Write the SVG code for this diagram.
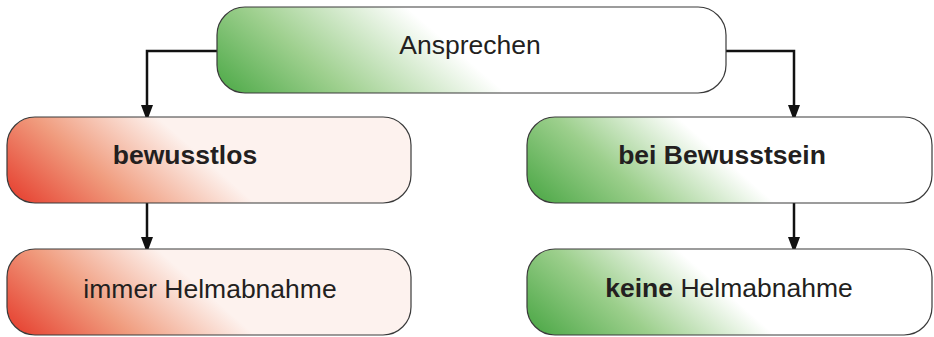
<svg xmlns="http://www.w3.org/2000/svg" width="934" height="337" viewBox="0 0 934 337">
<style>
.box{stroke:#3a3a3a;stroke-width:1.2}
.lbl{font-family:"Liberation Sans",Arial,sans-serif;font-size:26.5px;fill:#231f20;text-anchor:middle}
.b{font-weight:bold}
.con{fill:none;stroke:#111;stroke-width:2.5;marker-end:url(#ah)}
</style>
<defs>
<marker id="ah" viewBox="0 0 12 16" refX="12" refY="6" markerWidth="12" markerHeight="16" markerUnits="userSpaceOnUse" orient="auto">
<path d="M0,0 L16,6 L0,12 z" fill="#111"/>
</marker>
<linearGradient id="gTop" gradientUnits="userSpaceOnUse" x1="217" y1="93" x2="340" y2="-50">
<stop offset="0" stop-color="#4aa845"/>
<stop offset="0.45" stop-color="#9fd08f"/>
<stop offset="1" stop-color="#ffffff"/>
</linearGradient>
<linearGradient id="gRedA" gradientUnits="userSpaceOnUse" x1="7" y1="203" x2="115" y2="80">
<stop offset="0" stop-color="#e5392a"/>
<stop offset="0.5" stop-color="#f09c7e"/>
<stop offset="1" stop-color="#fdf2ee"/>
</linearGradient>
<linearGradient id="gRedB" gradientUnits="userSpaceOnUse" x1="7" y1="335" x2="115" y2="212">
<stop offset="0" stop-color="#e5392a"/>
<stop offset="0.5" stop-color="#f09c7e"/>
<stop offset="1" stop-color="#fdf2ee"/>
</linearGradient>
<linearGradient id="gGrnA" gradientUnits="userSpaceOnUse" x1="527" y1="203" x2="635" y2="80">
<stop offset="0" stop-color="#47a542"/>
<stop offset="0.5" stop-color="#9ccf8c"/>
<stop offset="1" stop-color="#ffffff"/>
</linearGradient>
<linearGradient id="gGrnB" gradientUnits="userSpaceOnUse" x1="527" y1="335" x2="635" y2="212">
<stop offset="0" stop-color="#47a542"/>
<stop offset="0.5" stop-color="#9ccf8c"/>
<stop offset="1" stop-color="#ffffff"/>
</linearGradient>
</defs>
<g id="connectors">
<path class="con" d="M217,51 H147 V117"/>
<path class="con" d="M726,51 H794 V117"/>
<path class="con" d="M147,203 V249"/>
<path class="con" d="M794,203 V249"/>
</g>
<g id="ansprechen">
<rect class="box" x="217" y="7" width="509" height="86" rx="28" fill="url(#gTop)"/>
<text class="lbl" x="470" y="54">Ansprechen</text>
</g>
<g id="bewusstlos">
<rect class="box" x="7" y="117" width="404" height="86" rx="28" fill="url(#gRedA)"/>
<text class="lbl b" x="185" y="164">bewusstlos</text>
</g>
<g id="immer">
<rect class="box" x="7" y="249" width="404" height="86" rx="28" fill="url(#gRedB)"/>
<text class="lbl" x="210" y="298">immer Helmabnahme</text>
</g>
<g id="bewusstsein">
<rect class="box" x="527" y="117" width="405" height="86" rx="28" fill="url(#gGrnA)"/>
<text class="lbl b" x="722" y="164">bei Bewusstsein</text>
</g>
<g id="keine">
<rect class="box" x="527" y="249" width="405" height="86" rx="28" fill="url(#gGrnB)"/>
<text class="lbl" x="729" y="297"><tspan class="b">keine</tspan> Helmabnahme</text>
</g>
</svg>
